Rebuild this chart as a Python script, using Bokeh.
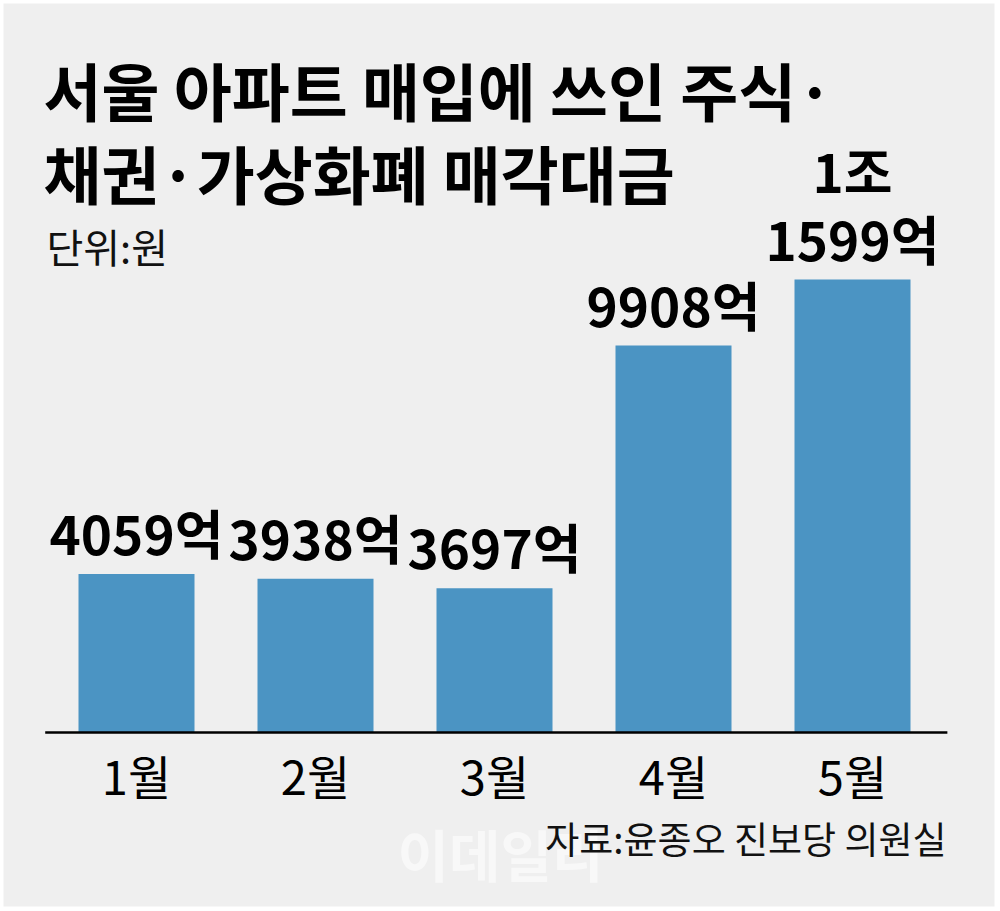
from bokeh.plotting import figure
from bokeh.models import Range1d, Label, ColumnDataSource
from bokeh.core.properties import value
from bokeh.embed import file_html
from bokeh.resources import INLINE

# ---- data ----
months = ["1월", "2월", "3월", "4월", "5월"]
amounts = [4059, 3938, 3697, 9908, 11599]   # 단위: 억원
title_lines = ["서울 아파트 매입에 쓰인 주식·", "채권·가상화폐 매각대금"]
unit_text = "단위:원"
source_text = "자료:윤종오 진보당 의원실"

def fmt_lines(v):
    if v >= 10000:
        return f"{v // 10000}조", f"{v % 10000}억"
    return "", f"{v}억"

idx = list(range(len(months)))
top_lines = [fmt_lines(v)[0] for v in amounts]
main_lines = [fmt_lines(v)[1] for v in amounts]

BG = "#efefef"
BAR = "#4b94c3"
KR = "Noto Sans CJK KR"

W, H = 1000, 911
# frame inside white border
fl, ft, fr, fb = 3, 3, 6, 5
frame_w = W - fl - fr
frame_h = H - ft - fb

# scale: pixel positions of category centres and baseline
px_step = 179.0
px_first = 136.0
px_base = 732.0
px_per_unit = 0.03905

x_start = (fl - px_first) / px_step
x_end = (fl + frame_w - px_first) / px_step
y_end = (px_base - ft) / px_per_unit
y_start = -((ft + frame_h) - px_base) / px_per_unit

p = figure(width=W, height=H, output_backend="svg", toolbar_location=None,
           x_range=Range1d(x_start, x_end), y_range=Range1d(y_start, y_end),
           min_border_left=fl, min_border_top=ft, min_border_right=fr,
           min_border_bottom=fb, background_fill_color=BG,
           border_fill_color="white", outline_line_color=None)
p.axis.visible = False
p.grid.visible = False

src = ColumnDataSource(dict(x=idx, top=amounts, main=main_lines,
                            upper=top_lines, month=months,
                            zero=[0] * len(idx)))

p.vbar(x="x", top="top", bottom=0, width=116 / px_step, source=src,
       fill_color=BAR, line_color=None)

# baseline
n = len(idx)
p.segment(x0=[-0.51], y0=[0], x1=[n - 0.47], y1=[0], line_color="black",
          line_width=2.5)

# value labels
p.text(x="x", y="top", text="main", source=src, text_align="center",
       text_baseline="alphabetic", y_offset=-42, text_font=value(KR),
       text_font_style="bold", text_font_size="53px", text_color="black")
p.text(x="x", y="top", text="upper", source=src, text_align="center",
       text_baseline="alphabetic", y_offset=-110, text_font=value(KR),
       text_font_style="bold", text_font_size="53px", text_color="black")

# month labels
p.text(x="x", y="zero", text="month", source=src, text_align="center",
       text_baseline="middle", y_offset=42, text_font=value(KR),
       text_font_size="47px", text_color="black")

def sy(py):
    # page pixel (from top) -> screen units measured from frame bottom
    return (ft + frame_h) - py

def sx(px):
    return px - fl

# title
for i, line in enumerate(title_lines):
    p.add_layout(Label(x=sx(43), y=sy(88 + 83 * i), x_units="screen",
                       y_units="screen", text=line, text_font=KR,
                       text_font_style="bold", text_font_size="63px",
                       text_baseline="middle", text_align="left",
                       text_color="black"))

p.add_layout(Label(x=sx(46), y=sy(245), x_units="screen", y_units="screen",
                   text=unit_text, text_font=KR, text_font_size="40px",
                   text_baseline="middle", text_align="left",
                   text_color="#111111"))

# watermark
p.add_layout(Label(x=sx(500), y=sy(852), x_units="screen", y_units="screen",
                   text="이데일리", text_font=KR, text_font_style="bold",
                   text_font_size="56px", text_baseline="middle",
                   text_align="center", text_color="white", text_alpha=0.55))

p.add_layout(Label(x=sx(946), y=sy(837), x_units="screen", y_units="screen",
                   text=source_text, text_font=KR, text_font_size="37px",
                   text_baseline="middle", text_align="right",
                   text_color="#111111"))

open("out.html", "w").write(file_html(p, INLINE))
